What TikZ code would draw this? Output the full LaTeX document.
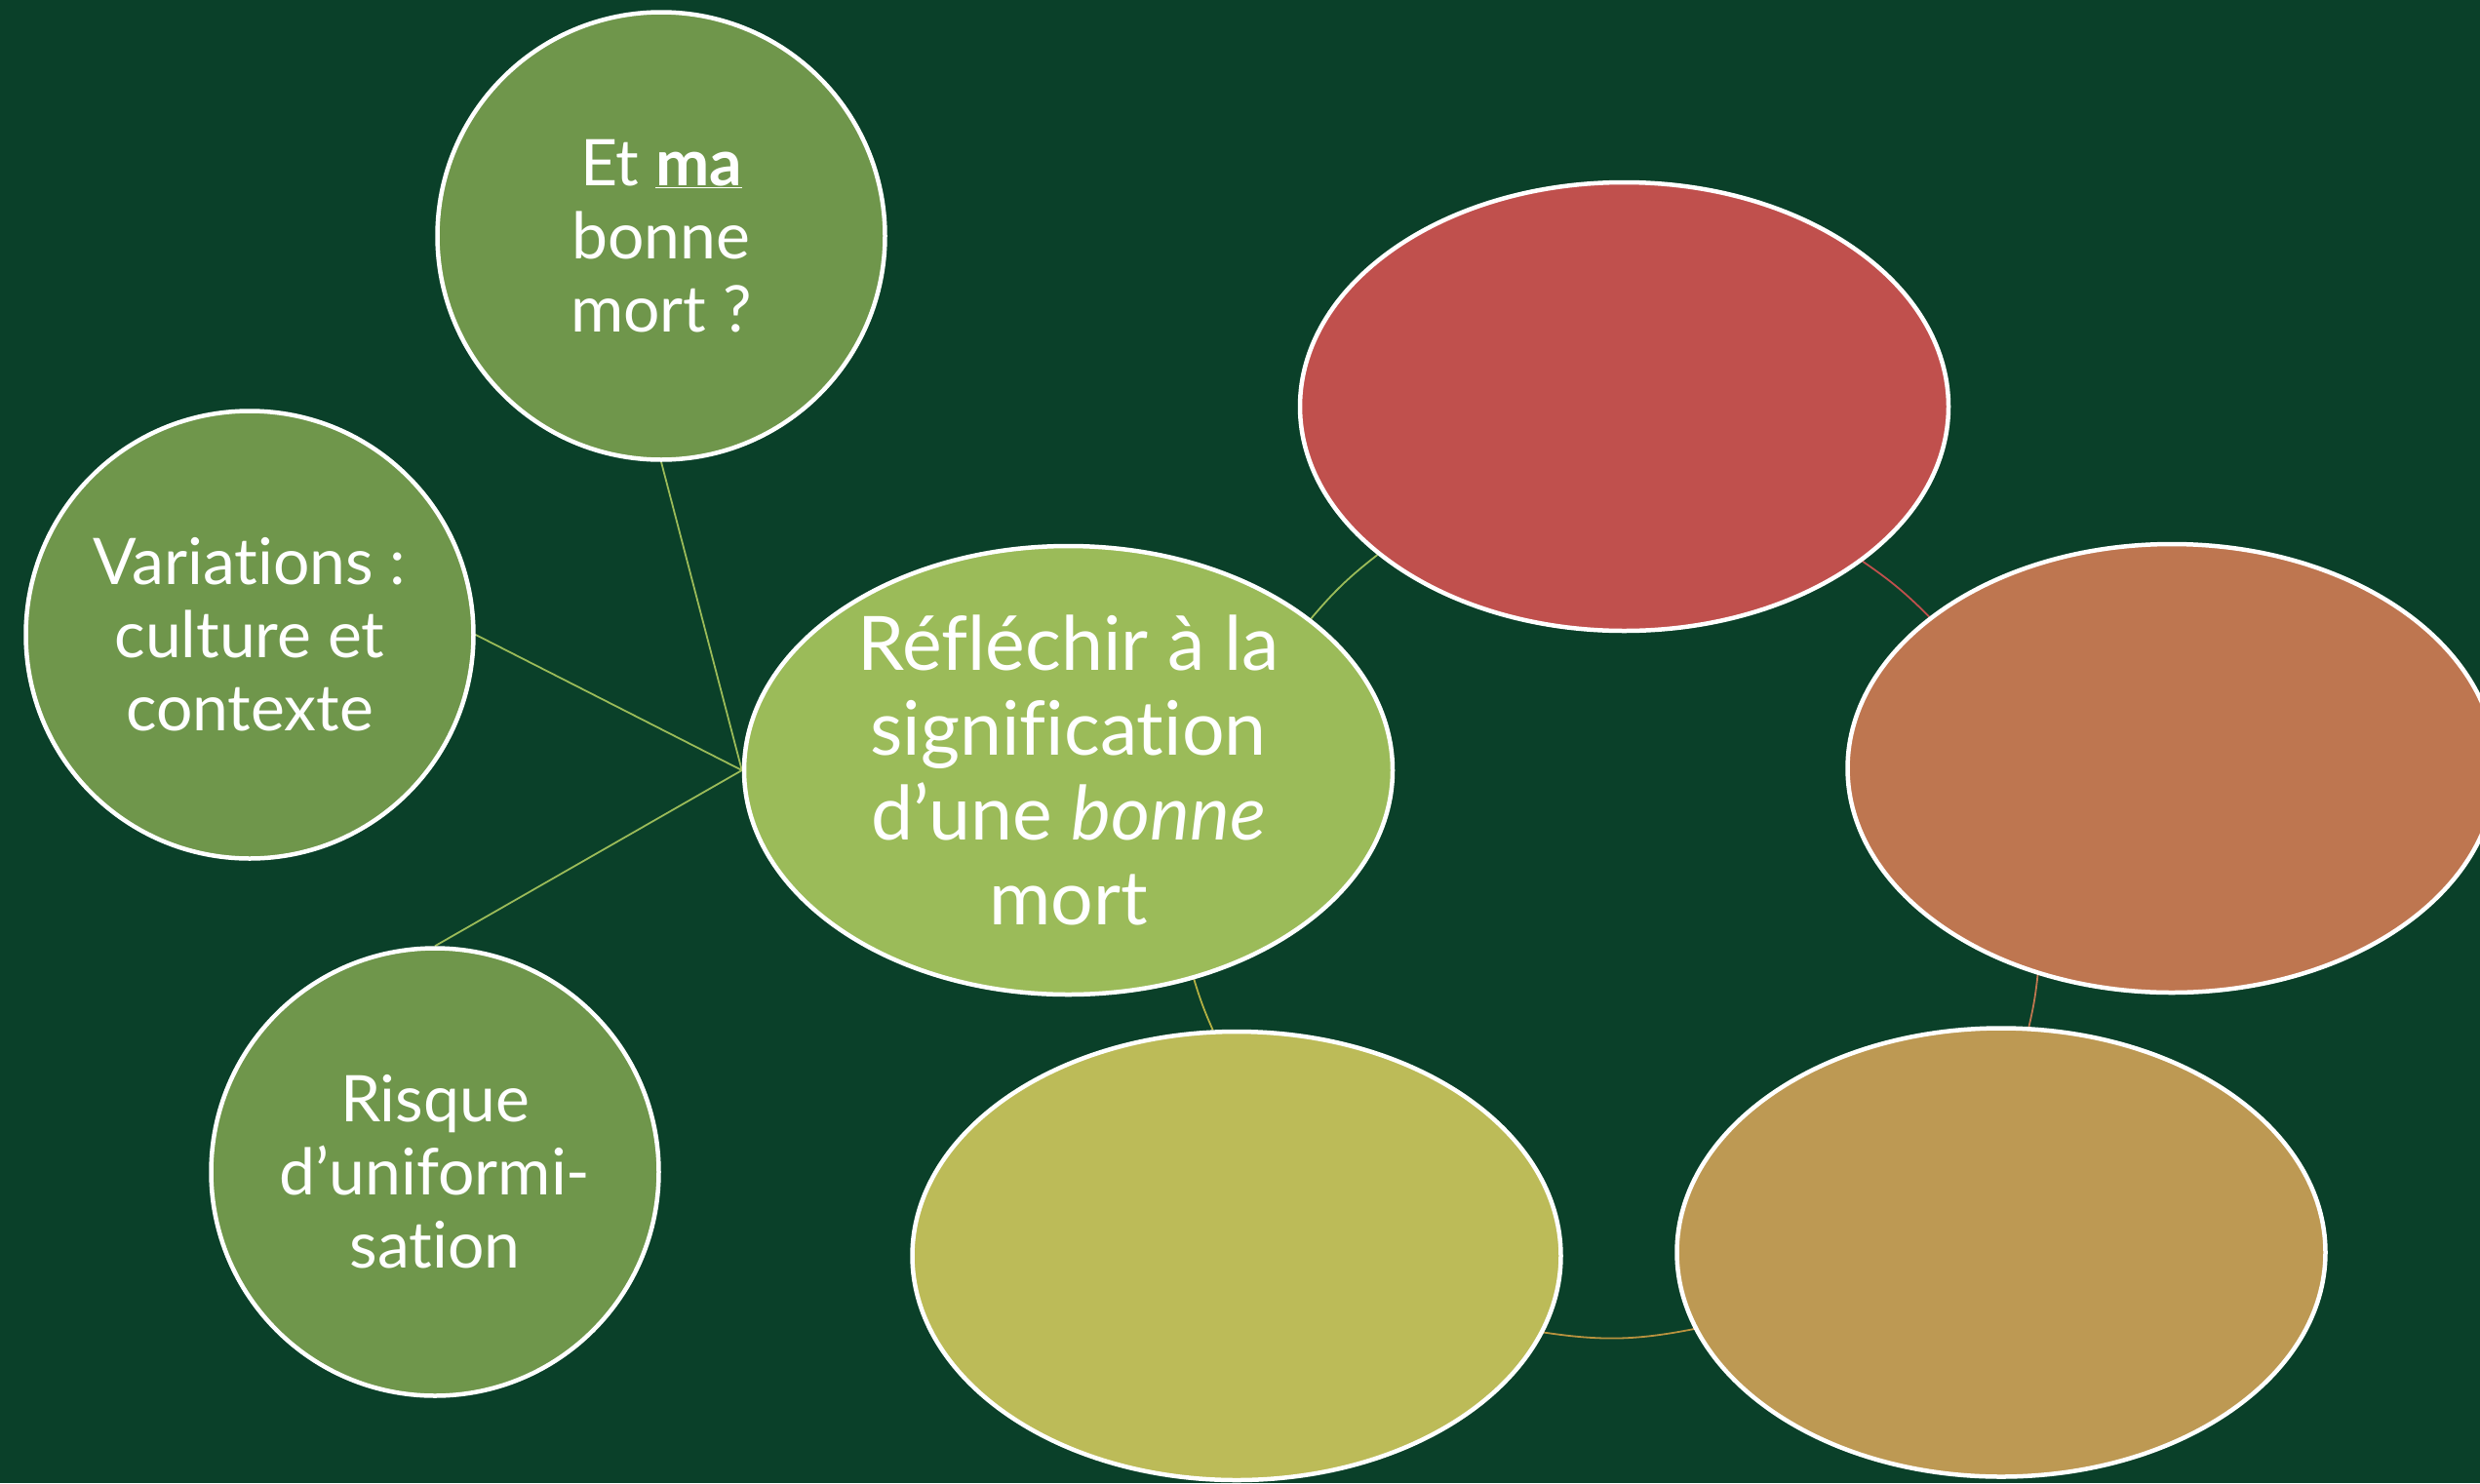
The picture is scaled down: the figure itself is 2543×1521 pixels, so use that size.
\documentclass[tikz,border=0pt]{standalone}
\usepackage{fontspec}
\setmainfont{Lato}[Ligatures=NoCommon]
\usetikzlibrary{shapes.geometric}
\definecolor{bgc}{HTML}{0A4029}
\definecolor{circc}{HTML}{6F964B}
\definecolor{centc}{HTML}{9BBB59}
\definecolor{redc}{HTML}{C0504D}
\definecolor{orac}{HTML}{BE7650}
\definecolor{tanc}{HTML}{BD9953}
\definecolor{yelc}{HTML}{BCBB58}
\definecolor{tanline}{HTML}{B8923F}
\definecolor{yelline}{HTML}{B3B043}
\pgfdeclarelayer{bottom}
\pgfdeclarelayer{links}
\pgfsetlayers{bottom,links,main}
\newcommand{\uline}[1]{\underline{\smash{#1}}}
\tikzset{
  bubble/.style={circle, draw=white, line width=4.5pt, minimum size=459pt, inner sep=0pt,
    text=white, align=center, font=\fontsize{66}{75}\selectfont},
  oval/.style={ellipse, draw=white, line width=4.5pt, minimum width=665pt, minimum height=460pt,
    inner sep=0pt, text=white, align=center, font=\fontsize{77}{87}\selectfont},
  link/.style={line width=1.8pt},
}
\begin{document}
\begin{tikzpicture}[x=1pt,y=-1pt]
\begin{pgfonlayer}{bottom}
\fill[bgc] (0,0) rectangle (2543,1521);
\end{pgfonlayer}
\useasboundingbox (0,0) rectangle (2543,1521);

\node[oval, fill=centc] (c) at (1095.5,790) {Réfléchir à la\\signification\\d’une \textit{bonne}\\mort};
\node[oval, fill=redc] (r) at (1665.5,417) {};
\node[oval, fill=orac] (o) at (2227,788) {};
\node[oval, fill=tanc] (t) at (2052,1284.5) {};
\node[oval, fill=yelc] (y) at (1268,1288) {};

\node[bubble, fill=circc] (ma) at (678,242) {Et \underline{\textbf{ma}}\\bonne\\mort ?};
\node[bubble, fill=circc] (var) at (256,651) {Variations :\\culture et\\contexte};
\node[bubble, fill=circc] (ris) at (446,1202) {Risque\\d’uniformi-\\sation};

\begin{pgfonlayer}{links}
\draw[link, centc] (c.west) -- (ma.south);
\draw[link, centc] (c.west) -- (var.east);
\draw[link, centc] (c.west) -- (ris.north);
\draw[link, centc] (c.32.6) to[bend left=6] (r.211.5);
\draw[link, redc] (r.327) to[bend left=5.3] (o.148.2);
\draw[link, orac] (o.237.3) to[bend left=3.5] (t.83.1);
\draw[link, tanline] (t.194.1) to[bend left=9.8] (y.346.6);
\draw[link, yelline] (y.96.4) to[bend left=3.5] (c.301.6);
\end{pgfonlayer}
\end{tikzpicture}
\end{document}
